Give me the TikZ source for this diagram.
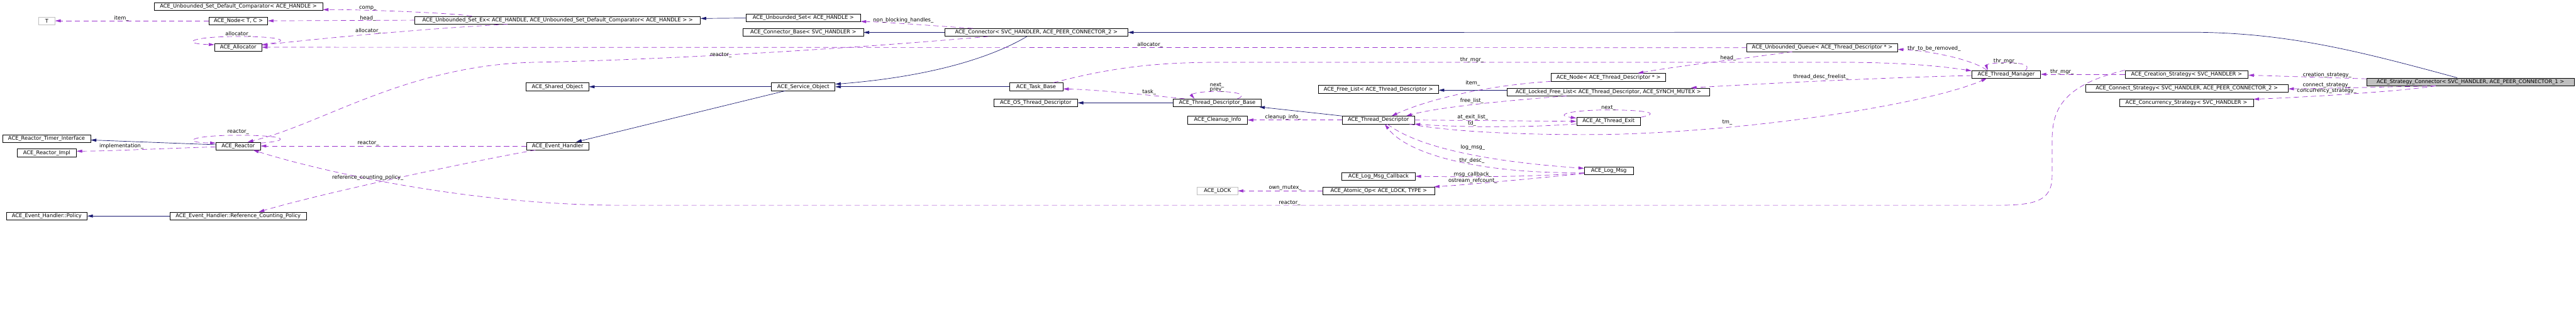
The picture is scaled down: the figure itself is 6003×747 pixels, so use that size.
\documentclass[tikz,border=0pt]{standalone}
\usepackage{fontspec}
\setmainfont{DejaVu Sans}
\usetikzlibrary{arrows.meta}
\definecolor{navyline}{HTML}{191970}
\definecolor{purpleline}{HTML}{9A32CD}
\definecolor{boxgray}{HTML}{BFBFBF}
\tikzset{
  classbox/.style={draw=black, line width=1pt, minimum height=18pt, inner sep=0pt, fill=white},
  graybox/.style={classbox, draw=boxgray},
  mainbox/.style={classbox, fill=boxgray},
  inherit/.style={draw=navyline, line width=1pt, -{Triangle[length=13pt,width=7pt]}},
  member/.style={draw=purpleline, line width=1pt, dash pattern=on 12pt off 8pt, -{Triangle[length=13pt,width=7pt]}},
  lbl/.style={inner sep=0pt}
}
\begin{document}
\begin{tikzpicture}[x=1pt,y=-1pt,font=\fontsize{12.2}{14}\selectfont]

			% canvas
			\path[fill=white] (0,0) rectangle (6003,747);
			\useasboundingbox (0,0) rectangle (6003,747);

			% classes
			\node[graybox, minimum width=38] (tparam) at (109,48.5) {T};
			\node[classbox, minimum width=393] (cmp) at (555.5,15) {ACE\_Unbounded\_Set\_Default\_Comparator< ACE\_HANDLE >};
			\node[classbox, minimum width=137] (nodetc) at (555.5,48.5) {ACE\_Node< T, C >};
			\node[classbox, minimum width=110] (alloc) at (555,110) {ACE\_Allocator};
			\node[classbox, minimum width=665] (setex) at (1299.5,47) {ACE\_Unbounded\_Set\_Ex< ACE\_HANDLE, ACE\_Unbounded\_Set\_Default\_Comparator< ACE\_HANDLE > >};
			\node[classbox, minimum width=266] (uset) at (1872,42) {ACE\_Unbounded\_Set< ACE\_HANDLE >};
			\node[classbox, minimum width=280] (connbase) at (1872,75.5) {ACE\_Connector\_Base< SVC\_HANDLER >};
			\node[classbox, minimum width=426] (conn) at (2415,75.5) {ACE\_Connector< SVC\_HANDLER, ACE\_PEER\_CONNECTOR\_2 >};
			\node[classbox, minimum width=146] (shobj) at (1299,202) {ACE\_Shared\_Object};
			\node[classbox, minimum width=148] (svcobj) at (1872,202) {ACE\_Service\_Object};
			\node[classbox, minimum width=145] (evh) at (1299.5,340) {ACE\_Event\_Handler};
			\node[classbox, minimum width=104] (reactor) at (555,340) {ACE\_Reactor};
			\node[classbox, minimum width=205] (rti) at (108.5,323) {ACE\_Reactor\_Timer\_Interface};
			\node[classbox, minimum width=138] (rimpl) at (109,356) {ACE\_Reactor\_Impl};
			\node[classbox, minimum width=188] (policy) at (109,503) {ACE\_Event\_Handler::Policy};
			\node[classbox, minimum width=318] (rcpolicy) at (555,503) {ACE\_Event\_Handler::Reference\_Counting\_Policy};
			\node[classbox, minimum width=125] (taskbase) at (2414.5,202) {ACE\_Task\_Base};
			\node[classbox, minimum width=195] (ostd) at (2413.5,239.5) {ACE\_OS\_Thread\_Descriptor};
			\node[classbox, minimum width=205] (tdbase) at (2836.5,239.5) {ACE\_Thread\_Descriptor\_Base};
			\node[classbox, minimum width=139] (cleanup) at (2837.5,279.5) {ACE\_Cleanup\_Info};
			\node[graybox, minimum width=94] (lock) at (2837,444.5) {ACE\_LOCK};
			\node[classbox, minimum width=280] (freelist) at (3212,208) {ACE\_Free\_List< ACE\_Thread\_Descriptor >};
			\node[classbox, minimum width=168] (td) at (3212,279.5) {ACE\_Thread\_Descriptor};
			\node[classbox, minimum width=171] (msgcb) at (3212.5,410.5) {ACE\_Log\_Msg\_Callback};
			\node[classbox, minimum width=260] (atomic) at (3213,444.5) {ACE\_Atomic\_Op< ACE\_LOCK, TYPE >};
			\node[classbox, minimum width=267] (nodetd) at (3748.5,180) {ACE\_Node< ACE\_Thread\_Descriptor * >};
			\node[classbox, minimum width=472] (lockedfl) at (3748,214) {ACE\_Locked\_Free\_List< ACE\_Thread\_Descriptor, ACE\_SYNCH\_MUTEX >};
			\node[classbox, minimum width=149] (atexit) at (3748.5,282.5) {ACE\_At\_Thread\_Exit};
			\node[classbox, minimum width=114] (logmsg) at (3749,398) {ACE\_Log\_Msg};
			\node[classbox, minimum width=351] (queue) at (4246.5,111) {ACE\_Unbounded\_Queue< ACE\_Thread\_Descriptor * >};
			\node[classbox, minimum width=160] (thrmgr) at (4675,173) {ACE\_Thread\_Manager};
			\node[classbox, minimum width=287] (creation) at (5095.5,173) {ACE\_Creation\_Strategy< SVC\_HANDLER >};
			\node[classbox, minimum width=472] (connstrat) at (5096,206) {ACE\_Connect\_Strategy< SVC\_HANDLER, ACE\_PEER\_CONNECTOR\_2 >};
			\node[classbox, minimum width=312] (concurrency) at (5095,239.5) {ACE\_Concurrency\_Strategy< SVC\_HANDLER >};
			\node[mainbox, minimum width=484] (stratconn) at (5757,190.5) {ACE\_Strategy\_Connector< SVC\_HANDLER, ACE\_PEER\_CONNECTOR\_1 >};

			% inheritance
			\draw[inherit] (uset.west) -- ([yshift=4]setex.east);
			\draw[inherit] (conn.west) -- (connbase.east);
			\draw[inherit] ([xshift=-31]stratconn.north) .. controls (5500,120) and (5330,75) .. (5100,75) -- (conn.east);
			\draw[inherit] (svcobj.west) -- (shobj.east);
			\draw[inherit] ([xshift=-22]conn.south) .. controls (2300,140) and (2150,180) .. ([yshift=6]svcobj.east);
			\draw[inherit] (taskbase.west) -- (svcobj.east);
			\draw[inherit] ([xshift=-42]svcobj.south) -- ([xshift=43]evh.north);
			\draw[inherit] ([yshift=3]reactor.west) -- ([yshift=-3]rti.east);
			\draw[inherit] (rcpolicy.west) -- (policy.east);
			\draw[inherit] (tdbase.west) -- (ostd.east);
			\draw[inherit] (td.north west) -- ([xshift=-5]tdbase.south east);
			\draw[inherit] ([yshift=4]lockedfl.west) -- ([yshift=-2]freelist.east);

			% members, left part
			\draw[member] (nodetc.west) -- (tparam.east);
			\draw[member] ([xshift=-200]setex.north) .. controls (1050,30) and (850,22) .. ([yshift=2]cmp.south east);
			\draw[member] (setex.west) -- (nodetc.east);
			\draw[member] ([yshift=7]alloc.east) .. controls (680,98) and (670,85) .. (555,85) .. controls (440,85) and (420,102) .. ([yshift=6]alloc.west);
			\draw[member] ([xshift=-117]setex.south) .. controls (1000,66) and (760,88) .. ([yshift=5]alloc.east);
			\draw[member] (queue.west) -- (alloc.east);
			\draw[member] ([xshift=-148]conn.north) .. controls (2200,62) and (2080,52) .. ([yshift=-8]uset.east);
			\draw[member] ([yshift=7]reactor.east) .. controls (680,328) and (670,315) .. (555,315) .. controls (440,315) and (420,332) .. ([yshift=7]reactor.west);
			\draw[member] ([xshift=-112]conn.south) .. controls (1900,120) and (1500,140) .. (1250,145) .. controls (950,150) and (750,290) .. ([xshift=22]reactor.north);
			\draw[member] (evh.west) -- (reactor.east);
			\draw[member] ([yshift=-2]reactor.west) .. controls (400,345) and (250,352) .. ([yshift=4]rimpl.east);
			\draw[member] ([xshift=-52]evh.south) .. controls (1100,375) and (750,450) .. ([xshift=48]rcpolicy.north);
			\draw[member] (creation.north west) .. controls (4800,200) and (4782,260) .. (4782,330) -- (4782,410) .. controls (4782,470) and (4740,478) .. (4650,478) -- (1450,478) .. controls (1100,478) and (750,400) .. ([xshift=35]reactor.south);

			% members, thread part
			\draw[member] ([xshift=40]taskbase.north) .. controls (2600,155) and (2700,145) .. (2850,145) -- (4300,145) .. controls (4450,146) and (4530,155) .. ([yshift=8]thrmgr.west);
			\draw[member] ([xshift=-76]tdbase.north) .. controls (2680,222) and (2560,209) .. ([yshift=-5]taskbase.east);
			\draw[member] ([xshift=47]tdbase.north) .. controls (2910,220) and (2880,213) .. (2833,213) .. controls (2790,213) and (2775,220) .. ([xshift=-53]tdbase.north);
			\draw[member] (td.west) -- (cleanup.east);
			\draw[member] ([xshift=-98]lockedfl.south) .. controls (3500,235) and (3350,250) .. ([xshift=65]td.north);
			\draw[member] (nodetd.south west) .. controls (3450,200) and (3320,235) .. ([xshift=31]td.north);
			\draw[member] ([xshift=-70]queue.south) .. controls (4050,138) and (3900,155) .. ([xshift=68]nodetd.north);
			\draw[member] ([xshift=-45]thrmgr.north) .. controls (4600,140) and (4500,118) .. ([yshift=-4]queue.east);
			\draw[member] ([xshift=45]thrmgr.north) .. controls (4735,150) and (4705,146) .. (4675,146) .. controls (4645,146) and (4628,150) .. ([xshift=-43]thrmgr.north);
			\draw[member] (creation.west) -- (thrmgr.east);
			\draw[member] ([xshift=-12]td.south east) .. controls (3400,310) and (3600,315) .. (3750,313) .. controls (4100,305) and (4500,240) .. ([xshift=-45]thrmgr.south);
			\draw[member] (td.east) -- (atexit.west);
			\draw[member] (atexit.north east) .. controls (3880,262) and (3820,256) .. (3748,256) .. controls (3660,256) and (3620,268) .. ([yshift=-2]atexit.north west);
			\draw[member] ([yshift=-6]atexit.west) .. controls (3550,298) and (3400,296) .. (td.south east);
			\draw[member] ([xshift=21]td.south) .. controls (3300,340) and (3450,375) .. ([yshift=6]logmsg.west);
			\draw[member] ([yshift=-4]logmsg.west) .. controls (3450,405) and (3280,360) .. ([xshift=15]td.south);
			\draw[member] ([yshift=-5]logmsg.west) .. controls (3550,413) and (3400,412) .. (msgcb.east);
			\draw[member] ([yshift=-6]logmsg.west) .. controls (3550,418) and (3420,430) .. ([xshift=-2]atomic.north east);
			\draw[member] (atomic.west) -- (lock.east);
			\draw[member] ([yshift=-3]thrmgr.west) .. controls (4400,180) and (4100,195) .. ([xshift=-44]lockedfl.north east);

			% members, strategies
			\draw[member] ([yshift=7]stratconn.west) -- ([yshift=-2]creation.east);
			\draw[member] ([xshift=-81]stratconn.south) .. controls (5550,203) and (5400,206) .. ([yshift=-1]connstrat.east);
			\draw[member] ([xshift=-81]stratconn.south) .. controls (5600,212) and (5400,225) .. ([yshift=-1]concurrency.north east);

			% edge labels
			\node[lbl] (l-item) at (283,43) {item\_};
			\node[lbl] (l-comp) at (857,19) {comp\_};
			\node[lbl] (l-head) at (857,43) {head\_};
			\node[lbl] (l-allocself) at (555,79) {allocator\_};
			\node[lbl] (l-allocset) at (858,72) {allocator\_};
			\node[lbl] (l-nbh) at (2105,48) {non\_blocking\_handles\_};
			\node[lbl] (l-reactself) at (555,307) {reactor\_};
			\node[lbl] (l-reactconn) at (1680,128) {reactor\_};
			\node[lbl] (l-allocqueue) at (2680,104) {allocator\_};
			\node[lbl] (l-reactevh) at (858,333) {reactor\_};
			\node[lbl] (l-impl) at (283,340) {implementation\_};
			\node[lbl] (l-rcp) at (857,414) {reference\_counting\_policy\_};
			\node[lbl] (l-reactcreate) at (3005,472) {reactor\_};
			\node[lbl] (l-thrmgrtask) at (3430,139) {thr\_mgr\_};
			\node[lbl] (l-task) at (2678,214) {task\_};
			\node[lbl, align=center, font=\fontsize{12.2}{11}\selectfont] (l-nextprev) at (2836,204) {next\_\\prev\_};
			\node[lbl] (l-cleanup) at (2990,273) {cleanup\_info\_};
			\node[lbl] (l-itemtd) at (3432,194) {item\_};
			\node[lbl] (l-freelist) at (3430,235) {free\_list\_};
			\node[lbl] (l-atexit) at (3432,273) {at\_exit\_list\_};
			\node[lbl] (l-td) at (3430,287) {td\_};
			\node[lbl] (l-logmsg) at (3432,343) {log\_msg\_};
			\node[lbl] (l-thrdesc) at (3430,374) {thr\_desc\_};
			\node[lbl] (l-msgcb) at (3432,407) {msg\_callback\_};
			\node[lbl] (l-ostream) at (3432,421) {ostream\_refcount\_};
			\node[lbl] (l-mutex) at (2995,438) {own\_mutex\_};
			\node[lbl] (l-headqueue) at (4027,135) {head\_};
			\node[lbl] (l-nextexit) at (3748,251) {next\_};
			\node[lbl] (l-tdfree) at (4243,179) {thread\_desc\_freelist\_};
			\node[lbl] (l-tm) at (4025,285) {tm\_};
			\node[lbl] (l-removed) at (4507,113) {thr\_to\_be\_removed\_};
			\node[lbl] (l-thrmgrself) at (4673,142) {thr\_mgr\_};
			\node[lbl] (l-thrmgrcreate) at (4805,167) {thr\_mgr\_};
			\node[lbl] (l-creation) at (5423,175) {creation\_strategy\_};
			\node[lbl] (l-connect) at (5422,198) {connect\_strategy\_};
			\node[lbl] (l-concurrency) at (5422,212) {concurrency\_strategy\_};

		\end{tikzpicture}
\end{document}
